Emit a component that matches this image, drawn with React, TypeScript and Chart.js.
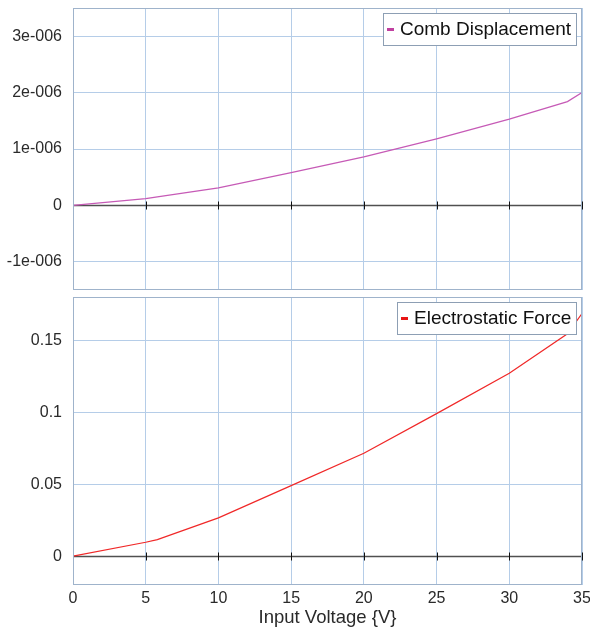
import React, { useEffect, useRef } from 'react';
import { Chart, registerables } from 'chart.js';
Chart.register(...registerables);

const voltage = [0, 5, 5.8, 10, 15, 20, 25, 30, 34, 35];
const combDisplacement = [0, 0.12e-6, 0.15e-6, 0.31e-6, 0.58e-6, 0.86e-6, 1.18e-6, 1.53e-6, 1.84e-6, 2.0e-6];
const electrostaticForce = [0, 0.0097, 0.0115, 0.0266, 0.049, 0.0715, 0.099, 0.127, 0.1545, 0.1685];
const xTicks = [0, 5, 10, 15, 20, 25, 30, 35];
const xTickLabels = ['0', '5', '10', '15', '20', '25', '30', '35'];
const topTicks = [-1e-6, 0, 1e-6, 2e-6, 3e-6];
const topTickLabels = ['-1e-006', '0', '1e-006', '2e-006', '3e-006'];
const bottomTicks = [0, 0.05, 0.1, 0.15];
const bottomTickLabels = ['0', '0.05', '0.1', '0.15'];

const FONT = '"Liberation Sans", Arial, sans-serif';
const GRID = '#b5cde8';
const FRAME = '#9fb3cb';
const TEXT = '#2a2a2a';

function zeroPadding(s: any) {
  s.paddingTop = 0;
  s.paddingBottom = 0;
  s.paddingLeft = 0;
  s.paddingRight = 0;
}

function makeDecor(label: string, lineColor: string) {
  return {
    id: 'decor-' + label.replace(/\s/g, ''),
    beforeDatasetsDraw(chart: any) {
      const { ctx, chartArea } = chart;
      const xs = chart.scales.x;
      const ys = chart.scales.y;
      const y0 = Math.round(ys.getPixelForValue(0)) + 0.5;
      ctx.save();
      ctx.strokeStyle = '#505050';
      ctx.lineWidth = 1.6;
      ctx.beginPath();
      ctx.moveTo(chartArea.left, y0);
      ctx.lineTo(chartArea.right, y0);
      ctx.stroke();
      ctx.strokeStyle = '#111';
      ctx.lineWidth = 1;
      xTicks.forEach((v) => {
        const px = Math.round(xs.getPixelForValue(v)) + 0.5;
        ctx.beginPath();
        ctx.moveTo(px, y0 - 4);
        ctx.lineTo(px, y0 + 4);
        ctx.stroke();
      });
      ctx.restore();
    },
    afterDraw(chart: any) {
      const { ctx, chartArea } = chart;
      ctx.save();
      ctx.strokeStyle = FRAME;
      ctx.lineWidth = 1;
      ctx.strokeRect(chartArea.left + 0.5, chartArea.top + 0.5, chartArea.right - chartArea.left - 1, chartArea.bottom - chartArea.top - 1);
      // legend
      ctx.font = `19px ${FONT}`;
      const tw = ctx.measureText(label).width;
      const boxH = 32;
      const boxW = 4 + 7 + 6 + tw + 5;
      const boxRight = chartArea.right - 6;
      const boxLeft = boxRight - boxW;
      const boxTop = chartArea.top + 5;
      ctx.fillStyle = '#fff';
      ctx.fillRect(boxLeft, boxTop, boxW, boxH);
      ctx.strokeStyle = '#8d9fb4';
      ctx.strokeRect(Math.round(boxLeft) + 0.5, boxTop + 0.5, Math.round(boxW), boxH);
      ctx.fillStyle = lineColor;
      ctx.fillRect(Math.round(boxLeft) + 4, boxTop + 15, 7, 3);
      ctx.fillStyle = '#111';
      ctx.textBaseline = 'middle';
      ctx.textAlign = 'left';
      ctx.fillText(label, Math.round(boxLeft) + 17, boxTop + boxH / 2 + 1);
      ctx.restore();
    },
  };
}

function xScale(showLabels: boolean) {
  return {
    type: 'linear',
    min: 0,
    max: 35,
    afterBuildTicks: (s: any) => {
      s.ticks = xTicks.map((v) => ({ value: v }));
    },
    afterFit: (s: any) => {
      s.height = showLabels ? 46 : 0;
      zeroPadding(s);
    },
    ticks: {
      display: showLabels,
      callback: (_v: any, i: number) => xTickLabels[i],
      font: { family: FONT, size: 16 },
      color: TEXT,
      padding: 4,
      maxRotation: 0,
      autoSkip: false,
    },
    title: {
      display: showLabels,
      text: 'Input Voltage {V}',
      font: { family: FONT, size: 18.5 },
      color: TEXT,
      padding: { top: 0, bottom: 2 },
    },
    grid: { color: GRID, drawTicks: false, lineWidth: 1 },
    border: { display: false },
  };
}

function yScale(min: number, max: number, ticks: number[], labels: string[]) {
  return {
    type: 'linear',
    min,
    max,
    afterBuildTicks: (s: any) => {
      s.ticks = ticks.map((v) => ({ value: v }));
    },
    afterFit: (s: any) => {
      s.width = 73;
      zeroPadding(s);
    },
    ticks: {
      callback: (_v: any, i: number) => labels[i],
      font: { family: FONT, size: 16 },
      color: TEXT,
      padding: 11,
      autoSkip: false,
    },
    grid: { color: GRID, drawTicks: false, lineWidth: 1 },
    border: { display: false },
  };
}

export default function App() {
  const topRef = useRef<HTMLCanvasElement>(null);
  const botRef = useRef<HTMLCanvasElement>(null);

  useEffect(() => {
    const c1 = new Chart(topRef.current as HTMLCanvasElement, {
      type: 'line',
      data: {
        datasets: [
          {
            label: 'Comb Displacement',
            data: voltage.map((v, i) => ({ x: v, y: combDisplacement[i] })),
            borderColor: '#c65ab6',
            borderWidth: 1.2,
            pointRadius: 0,
            tension: 0,
          },
        ],
      },
      options: {
        responsive: false,
        animation: false,
        layout: { padding: { left: 0, right: 8, top: 8, bottom: 5 } },
        plugins: { legend: { display: false }, tooltip: { enabled: false } },
        scales: {
          x: xScale(false) as any,
          y: yScale(-1.5e-6, 3.5e-6, topTicks, topTickLabels) as any,
        },
      },
      plugins: [makeDecor('Comb Displacement', '#c040a0')],
    });
    const c2 = new Chart(botRef.current as HTMLCanvasElement, {
      type: 'line',
      data: {
        datasets: [
          {
            label: 'Electrostatic Force',
            data: voltage.map((v, i) => ({ x: v, y: electrostaticForce[i] })),
            borderColor: '#f02828',
            borderWidth: 1.2,
            pointRadius: 0,
            tension: 0,
          },
        ],
      },
      options: {
        responsive: false,
        animation: false,
        layout: { padding: { left: 0, right: 8, top: 2, bottom: 0 } },
        plugins: { legend: { display: false }, tooltip: { enabled: false } },
        scales: {
          x: xScale(true) as any,
          y: yScale(-0.02, 0.18, bottomTicks, bottomTickLabels) as any,
        },
      },
      plugins: [makeDecor('Electrostatic Force', '#e81515')],
    });
    return () => {
      c1.destroy();
      c2.destroy();
    };
  }, []);

  return (
    <div style={{ position: 'absolute', left: 0, top: 0, width: 590, height: 631, background: '#fff' }}>
      <canvas ref={topRef} width={590} height={295} style={{ position: 'absolute', left: 0, top: 0, display: 'block' }} />
      <canvas ref={botRef} width={590} height={336} style={{ position: 'absolute', left: 0, top: 295, display: 'block' }} />
    </div>
  );
}
